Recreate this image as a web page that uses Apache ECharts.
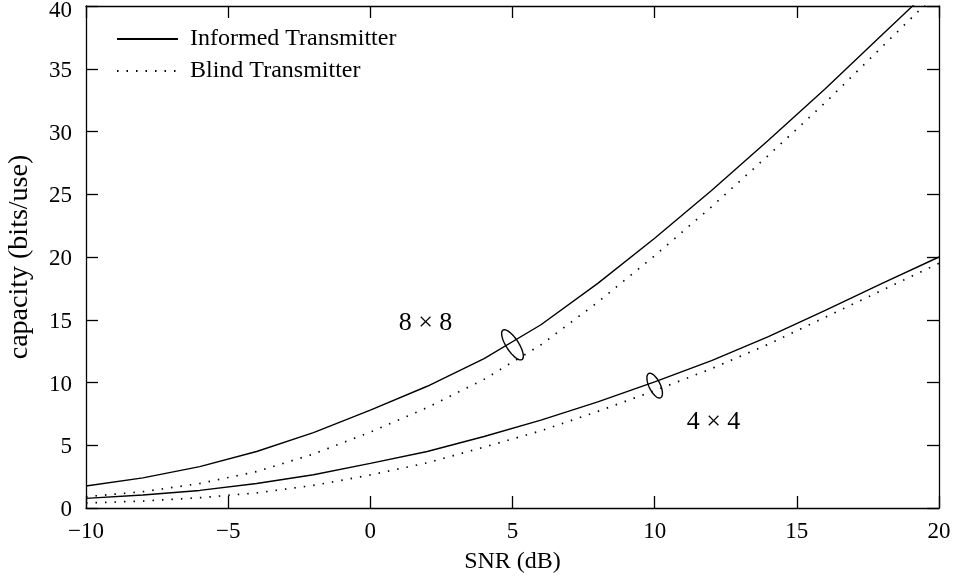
<!DOCTYPE html>
<html>
<head>
<meta charset="utf-8">
<script src="https://cdn.jsdelivr.net/npm/echarts@6/dist/echarts.min.js"></script>
<style>
  html, body { margin: 0; padding: 0; background: #fff; }
  #chart { width: 957px; height: 579px; }
</style>
</head>
<body>
<div id="chart"></div>
<script>
// SNR grid (dB)
const snr = [-10, -8, -6, -4, -2, 0, 2, 4, 6, 8, 10, 12, 14, 16, 18, 20];

// Ergodic capacity (bits/use)
const informed8x8 = [1.75, 2.4, 3.3, 4.5, 6.0, 7.8, 9.7, 11.9, 14.6, 17.9, 21.5, 25.3, 29.3, 33.4, 37.7, 42.0];
const blind8x8    = [0.9, 1.3, 1.95, 2.9, 4.3, 6.05, 8.0, 10.25, 13.0, 16.4, 20.1, 24.0, 28.1, 32.3, 36.75, 41.2];
const informed4x4 = [0.77, 1.04, 1.4, 1.95, 2.65, 3.56, 4.5, 5.7, 7.0, 8.45, 10.05, 11.75, 13.65, 15.75, 17.9, 20.0];
const blind4x4    = [0.4, 0.55, 0.82, 1.2, 1.8, 2.63, 3.6, 4.85, 6.15, 7.7, 9.35, 11.1, 13.05, 15.2, 17.35, 19.5];

// Axis ticks
const xTicks = { min: -10, max: 20, step: 5 };
const yTicks = { min: 0, max: 40, step: 5 };

// Group annotations: ring around each pair of curves, and the array size label
const ringCenters = [[5.0, 13.0], [10.0, 9.75]];
const sizeLabels  = [[1.94, 14.7, '8 × 8'], [12.07, 6.83, '4 × 4']];

// Ring geometry in pixels: semi-major, semi-minor, tilt from vertical (deg)
const ringShapes = [
  { a: 17.5, b: 6.2, tilt: 33 },
  { a: 13.5, b: 5.6, tilt: 26 }
];

const FONT = 'Liberation Serif';
const pair = (xs, ys) => xs.map((x, i) => [x, ys[i]]);
const minus = v => (v < 0 ? '\u2212' + Math.abs(v) : String(v));

const solid  = { color: '#000', width: 1.4, type: 'solid' };
const dotted = { color: '#000', width: 1.7, type: [1.5, 8], cap: 'butt' };

function lineSeries(name, ys, style) {
  return {
    name: name, type: 'line', data: pair(snr, ys),
    symbol: 'none', smooth: false, clip: true,
    color: '#000', lineStyle: style,
    xAxisIndex: 0, yAxisIndex: 0, z: 3
  };
}

const axisStroke = { color: '#000', width: 1.3 };

const chart = echarts.init(document.getElementById('chart'), null, { renderer: 'canvas' });

const option = {
  animation: false,
  backgroundColor: '#fff',
  grid: { left: 86, right: 18, top: 6, bottom: 71, containLabel: false, outerBoundsMode: 'none' },
  legend: {
    orient: 'vertical', left: 111, top: 22,
    itemWidth: 61, itemHeight: 24, itemGap: 8,
    data: ['Informed Transmitter', 'Blind Transmitter'],
    itemStyle: { color: 'rgba(0,0,0,0)', borderColor: 'rgba(0,0,0,0)', borderWidth: 0, opacity: 0 },
    textStyle: { fontFamily: FONT, fontSize: 24, color: '#000', padding: [0, 0, 0, 7] },
    selectedMode: false
  },
  xAxis: [
    {
      type: 'value', min: xTicks.min, max: xTicks.max, interval: xTicks.step,
      position: 'bottom',
      name: 'SNR (dB)', nameLocation: 'middle', nameGap: 42,
      nameTextStyle: { fontFamily: FONT, fontSize: 24, color: '#000' },
      axisLine: { show: true, onZero: false, lineStyle: axisStroke },
      axisTick: { show: true, inside: true, length: 12, lineStyle: axisStroke },
      axisLabel: { fontFamily: FONT, fontSize: 23, color: '#000', margin: 12, formatter: minus },
      splitLine: { show: false }
    },
    {
      type: 'value', min: xTicks.min, max: xTicks.max, interval: xTicks.step,
      position: 'top',
      axisLine: { show: true, onZero: false, lineStyle: axisStroke },
      axisTick: { show: true, inside: true, length: 12, lineStyle: axisStroke },
      axisLabel: { show: false },
      splitLine: { show: false }
    }
  ],
  yAxis: [
    {
      type: 'value', min: yTicks.min, max: yTicks.max, interval: yTicks.step,
      position: 'left',
      name: 'capacity (bits/use)', nameLocation: 'middle', nameGap: 52,
      nameTextStyle: { fontFamily: FONT, fontSize: 28, color: '#000' },
      axisLine: { show: true, onZero: false, lineStyle: axisStroke },
      axisTick: { show: true, inside: true, length: 12, lineStyle: axisStroke },
      axisLabel: {
        fontFamily: FONT, fontSize: 23, color: '#000', margin: 14, padding: [4, 0, 0, 0],
        formatter: v => (v === yTicks.max ? '{top|' + v + '}' : String(v)),
        rich: { top: { fontFamily: FONT, fontSize: 23, color: '#000', padding: [6, 0, 0, 0] } }
      },
      splitLine: { show: false }
    },
    {
      type: 'value', min: yTicks.min, max: yTicks.max, interval: yTicks.step,
      position: 'right',
      axisLine: { show: true, onZero: false, lineStyle: axisStroke },
      axisTick: { show: true, inside: true, length: 12, lineStyle: axisStroke },
      axisLabel: { show: false },
      splitLine: { show: false }
    }
  ],
  series: [
    lineSeries('Informed Transmitter', informed8x8, solid),
    lineSeries('Blind Transmitter', blind8x8, dotted),
    lineSeries('Informed Transmitter', informed4x4, solid),
    lineSeries('Blind Transmitter', blind4x4, dotted),
    {
      name: 'rings', type: 'custom', data: ringCenters, z: 4, silent: true,
      renderItem: function (params, api) {
        const c = api.coord([api.value(0), api.value(1)]);
        const s = ringShapes[params.dataIndex];
        const th = s.tilt * Math.PI / 180;
        const u = [Math.sin(th), Math.cos(th)];   // major axis direction
        const v = [Math.cos(th), -Math.sin(th)];  // minor axis direction
        const pts = [];
        const N = 72;
        for (let k = 0; k <= N; k++) {
          const t = 2 * Math.PI * k / N;
          const p = s.a * Math.cos(t), q = s.b * Math.sin(t);
          pts.push([c[0] + u[0] * p + v[0] * q, c[1] + u[1] * p + v[1] * q]);
        }
        return {
          type: 'polygon', shape: { points: pts },
          style: { fill: 'none', stroke: '#000', lineWidth: 1.4 }
        };
      }
    },
    {
      name: 'sizes', type: 'custom', data: sizeLabels, z: 4, silent: true,
      renderItem: function (params, api) {
        const c = api.coord([api.value(0), api.value(1)]);
        return {
          type: 'text', x: c[0], y: c[1],
          style: {
            text: sizeLabels[params.dataIndex][2],
            fontFamily: FONT, fontSize: 26, fill: '#000',
            align: 'center', verticalAlign: 'middle'
          }
        };
      }
    }
  ]
};

chart.setOption(option);
</script>
</body>
</html>
